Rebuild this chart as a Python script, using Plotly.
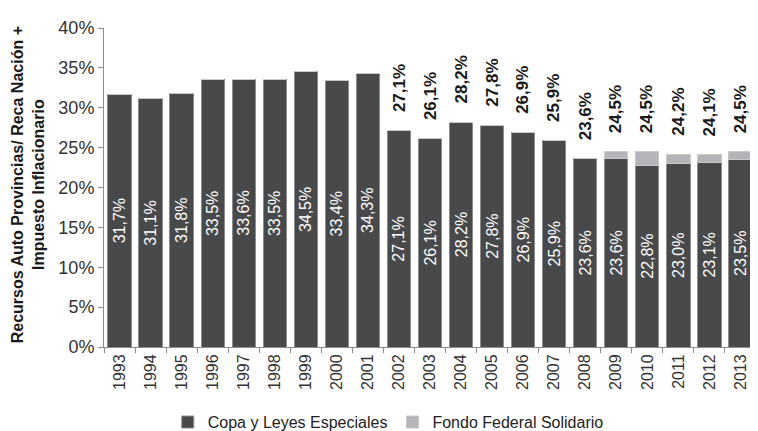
import plotly.graph_objects as go

years = [str(y) for y in range(1993, 2014)]
copa = [31.7, 31.1, 31.8, 33.5, 33.6, 33.5, 34.5, 33.4, 34.3, 27.1, 26.1,
        28.2, 27.8, 26.9, 25.9, 23.6, 23.6, 22.8, 23.0, 23.1, 23.5]
fondo = [0, 0, 0, 0, 0, 0, 0, 0, 0, 0, 0,
         0, 0, 0, 0, 0, 0.9, 1.7, 1.2, 1.0, 1.0]
totals = [31.7, 31.1, 31.8, 33.5, 33.6, 33.5, 34.5, 33.4, 34.3, 27.1, 26.1,
          28.2, 27.8, 26.9, 25.9, 23.6, 24.5, 24.5, 24.2, 24.1, 24.5]

FONT = "Liberation Sans Narrow, Arial Narrow, Arial, sans-serif"
DARK = "#48494b"
LIGHT = "#b4b5b8"


def pct(v):
    return f"{v:.1f}%".replace(".", ",")


fig = go.Figure()
fig.add_trace(go.Bar(
    name="Copa y Leyes Especiales",
    x=years, y=copa,
    marker=dict(color=DARK, line=dict(color="#8c8c8c", width=1)),
    text=[pct(v) for v in copa],
    textposition="inside",
    insidetextanchor="middle",
    textangle=-90,
    textfont=dict(color="white", size=16, family=FONT),
))
fig.add_trace(go.Bar(
    name="Fondo Federal Solidario",
    x=years, y=fondo,
    marker=dict(color=LIGHT, line=dict(color="#c8c8c8", width=1)),
))

# total labels above the bars; tall bars get their label pinned to the top
for i, t in enumerate(totals):
    if t >= 30:
        ly, anchor = 42.0, "top"
    else:
        ly, anchor = t + 2.1, "bottom"
    fig.add_annotation(
        x=i, y=ly, text=f"<b>{pct(t)}</b>", textangle=-90,
        showarrow=False, yanchor=anchor,
        font=dict(size=17, color="#1a1a1a", family=FONT),
    )

# y axis title placed by hand (two lines, rotated)
fig.add_annotation(
    xref="paper", yref="paper", x=-0.116, y=0.508,
    text="<b>Recursos Auto Provincias/ Reca Nación +<br>Impuesto Inflacionario</b>",
    textangle=-90, showarrow=False, xanchor="center", yanchor="middle",
    font=dict(size=16, color="#1a1a1a", family=FONT),
)

# page body has an 8px margin, so the figure is sized to fit the window
fig.update_layout(
    width=750, height=423,
    barmode="stack",
    bargap=0.25,
    plot_bgcolor="white",
    paper_bgcolor="white",
    margin=dict(l=96, r=2, t=20, b=84),
    font=dict(family=FONT, color="#333333"),
    showlegend=True,
    legend=dict(
        orientation="h", x=0.436, xanchor="center",
        yref="container", y=0.021, yanchor="middle",
        font=dict(size=16, color="#222222", family=FONT),
        traceorder="normal",
    ),
    xaxis=dict(
        type="category",
        range=[-0.5, len(years) - 0.5],
        automargin=False,
        tickangle=-90,
        tickfont=dict(size=16, color="#333333", family=FONT),
        showline=True, linecolor="#8c8c8c", linewidth=1,
        ticks="outside", ticklen=5, tickcolor="#8c8c8c",
        tickson="boundaries",
        showgrid=False,
    ),
    yaxis=dict(
        range=[0, 40],
        dtick=5,
        ticksuffix="%",
        automargin=False,
        tickfont=dict(size=18, color="#333333", family=FONT),
        showline=True, linecolor="#8c8c8c", linewidth=1,
        ticks="outside", ticklen=5, tickcolor="#8c8c8c",
        showgrid=False, zeroline=False,
    ),
)

fig.write_html("out.html")
